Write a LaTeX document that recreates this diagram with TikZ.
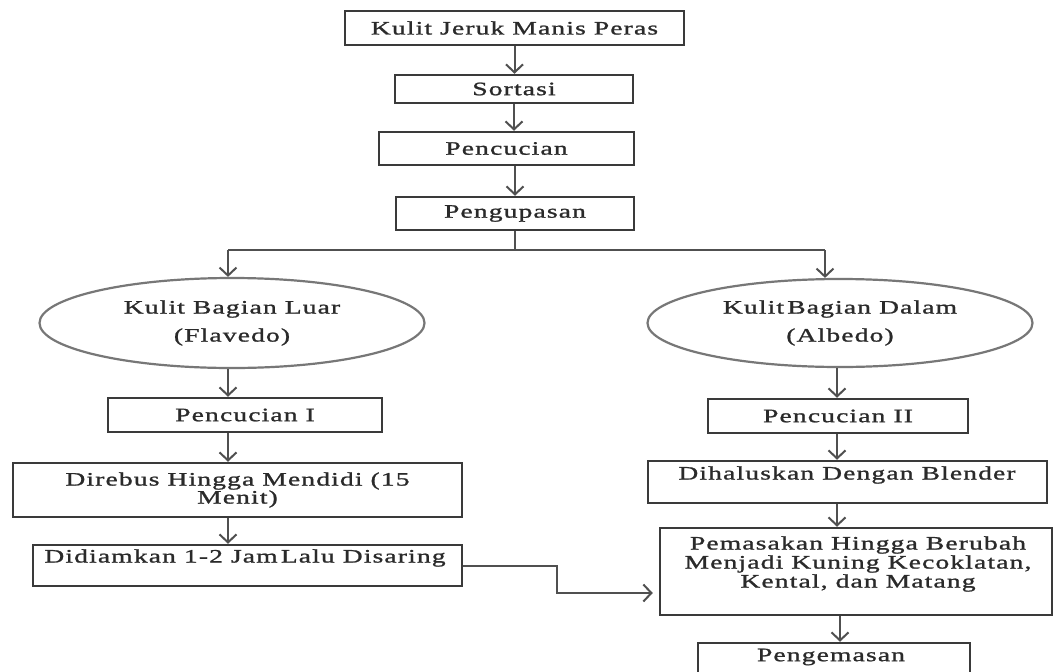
\documentclass[tikz,border=0pt]{standalone}
\usepackage{fontspec}
\setmainfont[FakeStretch=1.45,LetterSpace=6,FakeBold=1.2]{Liberation Serif}
\usetikzlibrary{arrows.meta,shapes.geometric,calc}
\definecolor{boxc}{HTML}{3A3A3A}
\definecolor{ovalc}{HTML}{777777}
\definecolor{linec}{HTML}{505050}
\definecolor{txtc}{HTML}{2A2A2A}
\newcommand\fsz{\fontsize{19}{19}\selectfont}
\begin{document}
\begin{tikzpicture}[x=1pt,y=-1pt,
  box/.style={draw=boxc,line width=2.5pt,rectangle,inner sep=0pt,font=\fsz,text=txtc,align=center},
  oval/.style={draw=ovalc,line width=2.2pt,ellipse,inner sep=0pt,font=\fsz,text=txtc,align=center},
  lbl/.style={font=\fsz,text=txtc,align=center,inner sep=0pt},
  conn/.style={draw=linec,line width=2pt},
  arr/.style={conn,-{Straight Barb[length=8pt,width=17pt,line width=2pt]}}]
\clip (0,0) rectangle (1055,672);
\fill[white] (0,0) rectangle (1055,672);

% top column
\node[box,minimum width=339pt,minimum height=34pt] (b1) at (514.5,28) {Kulit Jeruk Manis Peras};
\node[box,minimum width=238pt,minimum height=28pt] (sort) at (514,89) {Sortasi};
\node[box,minimum width=255pt,minimum height=33pt] (cuci) at (506.5,148.5) {Pencucian};
\node[box,minimum width=238pt,minimum height=33pt] (kupas) at (515,213.5) {Pengupasan};

% ellipses
\node[oval,minimum width=385pt,minimum height=90pt] (elL) at (232,323) {Kulit Bagian Luar\\[9pt](Flavedo)};
\node[oval,minimum width=385pt,minimum height=88pt] (elR) at (840,323) {Kulit\,Bagian Dalam\\[9pt](Albedo)};

% left column
\node[box,minimum width=274pt,minimum height=34pt] (cuci1) at (245,415) {Pencucian I};
\node[box,minimum width=449pt,minimum height=54pt] (rebus) at (237.5,490) {Direbus Hingga Mendidi (15\\[-1pt]Menit)};
\node[box,minimum width=429pt,minimum height=41pt] (diam) at (247.5,565.5) {};
\node[lbl] (diamt) at (245,558) {Didiamkan 1-2 Jam\,Lalu Disaring};

% right column
\node[box,minimum width=260pt,minimum height=34pt] (cuci2) at (838,416) {Pencucian II};
\node[box,minimum width=399pt,minimum height=42pt] (halus) at (847.5,482) {};
\node[lbl] (halust) at (847,475) {Dihaluskan Dengan Blender};
\node[box,minimum width=392pt,minimum height=87pt] (masak) at (856,571.5) {};
\node[lbl] (masakt) at (858,564) {Pemasakan Hingga Berubah\\[0pt]Menjadi Kuning Kecoklatan,\\[0pt]Kental, dan Matang};
\node[box,minimum width=272pt,minimum height=47pt] (kemas) at (834,666.5) {};
\node[lbl] (kemast) at (831,657) {Pengemasan};

% connectors
\draw[arr] (b1.south) -- (b1.south |- sort.north);
\draw[arr] (sort.south) -- (sort.south |- cuci.north);
\draw[arr] (kupas.north |- cuci.south) -- (kupas.north);

\coordinate (jL) at (228,250);
\coordinate (jR) at (825,250);
\draw[conn] (kupas.south) -- (kupas.south |- jL);
\draw[conn] (jL) -- (jR);
\draw[arr] (jL) -- (jL |- elL.north);
\draw[arr] (jR) -- (jR |- elR.north);

\draw[arr] (elL.south -| jL) -- (jL |- cuci1.north);
\draw[arr] (cuci1.south -| jL) -- (jL |- rebus.north);
\draw[arr] (rebus.south -| jL) -- (jL |- diam.north);

\coordinate (xR) at (837,0);
\coordinate (xR2) at (840,0);
\draw[arr] (elR.south -| xR) -- (xR |- cuci2.north);
\draw[arr] (cuci2.south -| xR) -- (xR |- halus.north);
\draw[arr] (halus.south -| xR) -- (xR |- masak.north);
\draw[arr] (masak.south -| xR2) -- (xR2 |- kemas.north);

\coordinate (bend) at (557,593);
\draw[arr,shorten >=6pt] (diam.east) -- (diam.east -| bend) -- (bend) -- (masak.west |- bend);
\end{tikzpicture}
\end{document}
